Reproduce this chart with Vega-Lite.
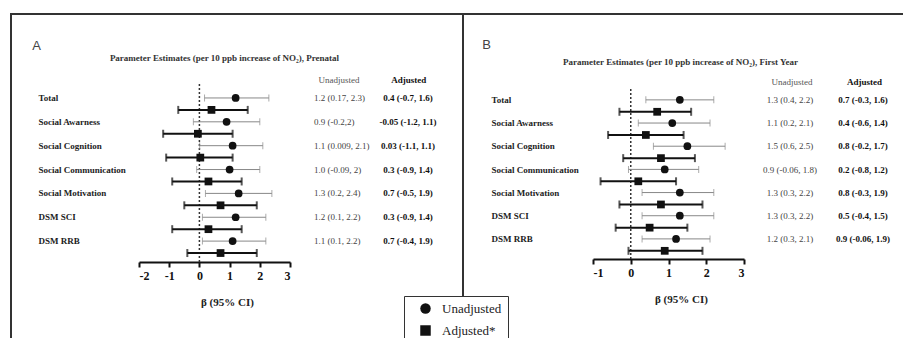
{
"$schema": "https://vega.github.io/schema/vega-lite/v6.json",
"background": "white",
"padding": {"left": 10, "top": 13, "right": 0, "bottom": 0},
"autosize": {"type": "pad"},
"spacing": 0,
"bounds": "flush",
"datasets": {
"prenatal": [
{"measure": "Total", "model": "Unadjusted", "est": 1.2, "lower": 0.17, "upper": 2.3, "ci": "1.2 (0.17, 2.3)"},
{"measure": "Total", "model": "Adjusted", "est": 0.4, "lower": -0.7, "upper": 1.6, "ci": "0.4 (-0.7, 1.6)"},
{"measure": "Social Awarness", "model": "Unadjusted", "est": 0.9, "lower": -0.2, "upper": 2, "ci": "0.9 (-0.2,2)"},
{"measure": "Social Awarness", "model": "Adjusted", "est": -0.05, "lower": -1.2, "upper": 1.1, "ci": "-0.05 (-1.2, 1.1)"},
{"measure": "Social Cognition", "model": "Unadjusted", "est": 1.1, "lower": 0.009, "upper": 2.1, "ci": "1.1 (0.009, 2.1)"},
{"measure": "Social Cognition", "model": "Adjusted", "est": 0.03, "lower": -1.1, "upper": 1.1, "ci": "0.03 (-1.1, 1.1)"},
{"measure": "Social Communication", "model": "Unadjusted", "est": 1.0, "lower": -0.09, "upper": 2, "ci": "1.0 (-0.09, 2)"},
{"measure": "Social Communication", "model": "Adjusted", "est": 0.3, "lower": -0.9, "upper": 1.4, "ci": "0.3 (-0.9, 1.4)"},
{"measure": "Social Motivation", "model": "Unadjusted", "est": 1.3, "lower": 0.2, "upper": 2.4, "ci": "1.3 (0.2, 2.4)"},
{"measure": "Social Motivation", "model": "Adjusted", "est": 0.7, "lower": -0.5, "upper": 1.9, "ci": "0.7 (-0.5, 1.9)"},
{"measure": "DSM SCI", "model": "Unadjusted", "est": 1.2, "lower": 0.1, "upper": 2.2, "ci": "1.2 (0.1, 2.2)"},
{"measure": "DSM SCI", "model": "Adjusted", "est": 0.3, "lower": -0.9, "upper": 1.4, "ci": "0.3 (-0.9, 1.4)"},
{"measure": "DSM RRB", "model": "Unadjusted", "est": 1.1, "lower": 0.1, "upper": 2.2, "ci": "1.1 (0.1, 2.2)"},
{"measure": "DSM RRB", "model": "Adjusted", "est": 0.7, "lower": -0.4, "upper": 1.9, "ci": "0.7 (-0.4, 1.9)"}
],
"firstyear": [
{"measure": "Total", "model": "Unadjusted", "est": 1.3, "lower": 0.4, "upper": 2.2, "ci": "1.3 (0.4, 2.2)"},
{"measure": "Total", "model": "Adjusted", "est": 0.7, "lower": -0.3, "upper": 1.6, "ci": "0.7 (-0.3, 1.6)"},
{"measure": "Social Awarness", "model": "Unadjusted", "est": 1.1, "lower": 0.2, "upper": 2.1, "ci": "1.1 (0.2, 2.1)"},
{"measure": "Social Awarness", "model": "Adjusted", "est": 0.4, "lower": -0.6, "upper": 1.4, "ci": "0.4 (-0.6, 1.4)"},
{"measure": "Social Cognition", "model": "Unadjusted", "est": 1.5, "lower": 0.6, "upper": 2.5, "ci": "1.5 (0.6, 2.5)"},
{"measure": "Social Cognition", "model": "Adjusted", "est": 0.8, "lower": -0.2, "upper": 1.7, "ci": "0.8 (-0.2, 1.7)"},
{"measure": "Social Communication", "model": "Unadjusted", "est": 0.9, "lower": -0.06, "upper": 1.8, "ci": "0.9 (-0.06, 1.8)"},
{"measure": "Social Communication", "model": "Adjusted", "est": 0.2, "lower": -0.8, "upper": 1.2, "ci": "0.2 (-0.8, 1.2)"},
{"measure": "Social Motivation", "model": "Unadjusted", "est": 1.3, "lower": 0.3, "upper": 2.2, "ci": "1.3 (0.3, 2.2)"},
{"measure": "Social Motivation", "model": "Adjusted", "est": 0.8, "lower": -0.3, "upper": 1.9, "ci": "0.8 (-0.3, 1.9)"},
{"measure": "DSM SCI", "model": "Unadjusted", "est": 1.3, "lower": 0.3, "upper": 2.2, "ci": "1.3 (0.3, 2.2)"},
{"measure": "DSM SCI", "model": "Adjusted", "est": 0.5, "lower": -0.4, "upper": 1.5, "ci": "0.5 (-0.4, 1.5)"},
{"measure": "DSM RRB", "model": "Unadjusted", "est": 1.2, "lower": 0.3, "upper": 2.1, "ci": "1.2 (0.3, 2.1)"},
{"measure": "DSM RRB", "model": "Adjusted", "est": 0.9, "lower": -0.06, "upper": 1.9, "ci": "0.9 (-0.06, 1.9)"}
]
},
"hconcat": [
{
"width": 452, "height": 330,
"data": {"name": "prenatal"},
"title": {"text": "Parameter Estimates (per 10 ppb increase of NO₂), Prenatal", "frame": "group", "anchor": "middle", "offset": -53, "baseline": "middle", "dx": -12.5, "font": "Liberation Serif", "fontSize": 9, "fontWeight": "bold", "color": "#333"},
"encoding": {
"y": {"field": "measure", "type": "nominal",
"scale": {"type": "band", "domain": ["Total", "Social Awarness", "Social Cognition", "Social Communication", "Social Motivation", "DSM SCI", "DSM RRB"], "range": [78, 245], "paddingInner": 0, "paddingOuter": 0},
"axis": {"offset": -27, "ticks": false, "domain": false, "labelAlign": "left", "labelPadding": 0, "labelFont": "Liberation Serif", "labelFontWeight": "bold", "labelFontSize": 9, "labelColor": "#222", "labelOffset": -6, "labelBaseline": "middle", "labelLimit": 0, "title": "A", "titleAngle": 0, "titleX": -2, "titleY": 31, "titleFont": "Liberation Sans", "titleFontSize": 13, "titleFontWeight": "normal", "titleColor": "#444", "titleAlign": "center", "titleBaseline": "middle"}}
},
"layer": [
{"data": {"values": [{}]},
"mark": {"type": "rule", "strokeDash": [2, 2], "strokeWidth": 1.5, "color": "#333", "yOffset": -20, "y2Offset": 15},
"encoding": {
"x": {"datum": 0, "type": "quantitative",
"scale": {"domain": [-2, 3], "range": [128, 279], "nice": false, "zero": false},
"axis": {"values": [-2, -1, 0, 1, 2, 3], "offset": -82, "labelExpr": "'' + datum.value", "domainWidth": 2, "domainColor": "#111", "tickWidth": 2, "tickColor": "#111", "tickSize": 5, "labelFont": "Liberation Serif", "labelFontWeight": "bold", "labelFontSize": 12, "labelColor": "#111", "labelPadding": 3, "grid": false, "title": "β (95% CI)", "titleFont": "Liberation Serif", "titleFontWeight": "bold", "titleFontSize": 11, "titleColor": "#222", "titleX": 216, "titleY": 40, "titleAlign": "center", "titleBaseline": "middle"}},
"y": {"datum": "Total"},
"y2": {"datum": "DSM RRB"}}},
{"transform": [{"filter": "datum.model == 'Unadjusted'"}],
"mark": {"type": "rule", "color": "#888", "strokeWidth": 1},
"encoding": {"x": {"field": "lower", "type": "quantitative"}, "x2": {"field": "upper"},
"yOffset": {"field": "model", "type": "nominal", "scale": {"domain": ["Unadjusted", "Adjusted"], "paddingInner": 0, "paddingOuter": 0}}}},
{"transform": [{"filter": "datum.model == 'Unadjusted'"}, {"fold": ["lower", "upper"], "as": ["end", "bound"]}],
"mark": {"type": "tick", "color": "#888", "thickness": 1, "size": 7},
"encoding": {"x": {"field": "bound", "type": "quantitative"},
"yOffset": {"field": "model", "type": "nominal"}}},
{"transform": [{"filter": "datum.model == 'Adjusted'"}],
"mark": {"type": "rule", "color": "#111", "strokeWidth": 2},
"encoding": {"x": {"field": "lower", "type": "quantitative"}, "x2": {"field": "upper"},
"yOffset": {"field": "model", "type": "nominal"}}},
{"transform": [{"filter": "datum.model == 'Adjusted'"}, {"fold": ["lower", "upper"], "as": ["end", "bound"]}],
"mark": {"type": "tick", "color": "#111", "thickness": 2, "size": 8},
"encoding": {"x": {"field": "bound", "type": "quantitative"},
"yOffset": {"field": "model", "type": "nominal"}}},
{"mark": {"type": "point", "filled": true, "color": "#111", "size": 60, "opacity": 1},
"encoding": {"x": {"field": "est", "type": "quantitative"},
"yOffset": {"field": "model", "type": "nominal"},
"shape": {"field": "model", "type": "nominal", "scale": {"domain": ["Unadjusted", "Adjusted"], "range": ["circle", "square"]},
"legend": {"orient": "none", "legendX": 393, "legendY": 282, "title": null, "padding": 6, "strokeColor": "#333", "fillColor": "white", "labelFont": "Liberation Serif", "labelFontSize": 13, "labelColor": "#222", "symbolSize": 110, "rowPadding": 8, "symbolOffset": 9, "labelOffset": 10, "symbolStrokeWidth": 0, "symbolFillColor": "#111", "labelExpr": "datum.label == 'Adjusted' ? 'Adjusted*' : datum.label", "encode": {"legend": {"update": {"strokeWidth": {"value": 2}}}, "symbols": {"update": {"size": {"value": 110}}}}}}}},
{"transform": [{"filter": "datum.model == 'Unadjusted'"}],
"mark": {"type": "text", "align": "left", "baseline": "middle", "dy": -6, "font": "Liberation Serif", "fontSize": 9, "color": "#444"},
"encoding": {"x": {"datum": 3.795, "type": "quantitative"}, "text": {"field": "ci"}}},
{"transform": [{"filter": "datum.model == 'Adjusted'"}],
"mark": {"type": "text", "align": "center", "baseline": "middle", "dy": -6, "font": "Liberation Serif", "fontSize": 9, "fontWeight": "bold", "color": "#111"},
"encoding": {"x": {"datum": 6.907, "type": "quantitative"}, "text": {"field": "ci"}}},
{"data": {"values": [{}]},
"mark": {"type": "text", "text": "Unadjusted", "align": "center", "baseline": "middle", "dy": -24, "font": "Liberation Serif", "fontSize": 9, "color": "#555"},
"encoding": {"x": {"datum": 4.62, "type": "quantitative"}, "y": {"datum": "Total"}}},
{"data": {"values": [{}]},
"mark": {"type": "text", "text": "Adjusted", "align": "center", "baseline": "middle", "dy": -24, "font": "Liberation Serif", "fontSize": 9, "fontWeight": "bold", "color": "#111"},
"encoding": {"x": {"datum": 6.93, "type": "quantitative"}, "y": {"datum": "Total"}}}
]
},
{
"width": 445, "height": 330,
"data": {"name": "firstyear"},
"title": {"text": "Parameter Estimates (per 10 ppb increase of NO₂), First Year", "frame": "group", "anchor": "middle", "offset": -57, "baseline": "middle", "dx": -5, "font": "Liberation Serif", "fontSize": 9, "fontWeight": "bold", "color": "#333"},
"encoding": {
"y": {"field": "measure", "type": "nominal",
"scale": {"type": "band", "domain": ["Total", "Social Awarness", "Social Cognition", "Social Communication", "Social Motivation", "DSM SCI", "DSM RRB"], "range": [79.9, 242.1], "paddingInner": 0, "paddingOuter": 0},
"axis": {"offset": -28, "ticks": false, "domain": false, "labelAlign": "left", "labelPadding": 0, "labelFont": "Liberation Serif", "labelFontWeight": "bold", "labelFontSize": 9, "labelColor": "#222", "labelOffset": -5.5, "labelBaseline": "middle", "labelLimit": 0, "title": "B", "titleAngle": 0, "titleX": -5, "titleY": 30, "titleFont": "Liberation Sans", "titleFontSize": 13, "titleFontWeight": "normal", "titleColor": "#444", "titleAlign": "center", "titleBaseline": "middle"}}
},
"layer": [
{"data": {"values": [{}]},
"mark": {"type": "rule", "strokeDash": [2, 2], "strokeWidth": 1.5, "color": "#333", "yOffset": -16.5, "y2Offset": 14.5},
"encoding": {
"x": {"datum": 0, "type": "quantitative",
"scale": {"domain": [-1, 3], "range": [130, 281], "nice": false, "zero": false},
"axis": {"values": [-1, 0, 1, 2, 3], "offset": -85, "labelExpr": "'' + datum.value", "domainWidth": 2, "domainColor": "#111", "tickWidth": 2, "tickColor": "#111", "tickSize": 5, "labelFont": "Liberation Serif", "labelFontWeight": "bold", "labelFontSize": 12, "labelColor": "#111", "labelPadding": 3, "grid": false, "title": "β (95% CI)", "titleFont": "Liberation Serif", "titleFontWeight": "bold", "titleFontSize": 11, "titleColor": "#222", "titleX": 218, "titleY": 40, "titleAlign": "center", "titleBaseline": "middle"}},
"y": {"datum": "Total"},
"y2": {"datum": "DSM RRB"}}},
{"transform": [{"filter": "datum.model == 'Unadjusted'"}],
"mark": {"type": "rule", "color": "#888", "strokeWidth": 1},
"encoding": {"x": {"field": "lower", "type": "quantitative"}, "x2": {"field": "upper"},
"yOffset": {"field": "model", "type": "nominal", "scale": {"domain": ["Unadjusted", "Adjusted"], "paddingInner": 0, "paddingOuter": 0}}}},
{"transform": [{"filter": "datum.model == 'Unadjusted'"}, {"fold": ["lower", "upper"], "as": ["end", "bound"]}],
"mark": {"type": "tick", "color": "#888", "thickness": 1, "size": 7},
"encoding": {"x": {"field": "bound", "type": "quantitative"},
"yOffset": {"field": "model", "type": "nominal"}}},
{"transform": [{"filter": "datum.model == 'Adjusted'"}],
"mark": {"type": "rule", "color": "#111", "strokeWidth": 2},
"encoding": {"x": {"field": "lower", "type": "quantitative"}, "x2": {"field": "upper"},
"yOffset": {"field": "model", "type": "nominal"}}},
{"transform": [{"filter": "datum.model == 'Adjusted'"}, {"fold": ["lower", "upper"], "as": ["end", "bound"]}],
"mark": {"type": "tick", "color": "#111", "thickness": 2, "size": 8},
"encoding": {"x": {"field": "bound", "type": "quantitative"},
"yOffset": {"field": "model", "type": "nominal"}}},
{"mark": {"type": "point", "filled": true, "color": "#111", "size": 60, "opacity": 1},
"encoding": {"x": {"field": "est", "type": "quantitative"},
"yOffset": {"field": "model", "type": "nominal"},
"shape": {"field": "model", "type": "nominal", "scale": {"domain": ["Unadjusted", "Adjusted"], "range": ["circle", "square"]},
"legend": {"orient": "none", "legendX": 393, "legendY": 282, "title": null, "padding": 6, "strokeColor": "#333", "fillColor": "white", "labelFont": "Liberation Serif", "labelFontSize": 13, "labelColor": "#222", "symbolSize": 110, "rowPadding": 8, "symbolOffset": 9, "labelOffset": 10, "symbolStrokeWidth": 0, "symbolFillColor": "#111", "labelExpr": "datum.label == 'Adjusted' ? 'Adjusted*' : datum.label", "encode": {"legend": {"update": {"strokeWidth": {"value": 2}}}, "symbols": {"update": {"size": {"value": 110}}}}}}}},
{"transform": [{"filter": "datum.model == 'Unadjusted'"}],
"mark": {"type": "text", "align": "center", "baseline": "middle", "dy": -5.5, "font": "Liberation Serif", "fontSize": 9, "color": "#444"},
"encoding": {"x": {"datum": 4.219, "type": "quantitative"}, "text": {"field": "ci"}}},
{"transform": [{"filter": "datum.model == 'Adjusted'"}],
"mark": {"type": "text", "align": "center", "baseline": "middle", "dy": -5.5, "font": "Liberation Serif", "fontSize": 9, "fontWeight": "bold", "color": "#111"},
"encoding": {"x": {"datum": 6.152, "type": "quantitative"}, "text": {"field": "ci"}}},
{"data": {"values": [{}]},
"mark": {"type": "text", "text": "Unadjusted", "align": "center", "baseline": "middle", "dy": -23.5, "font": "Liberation Serif", "fontSize": 9, "color": "#555"},
"encoding": {"x": {"datum": 4.27, "type": "quantitative"}, "y": {"datum": "Total"}}},
{"data": {"values": [{}]},
"mark": {"type": "text", "text": "Adjusted", "align": "center", "baseline": "middle", "dy": -23.5, "font": "Liberation Serif", "fontSize": 9, "fontWeight": "bold", "color": "#111"},
"encoding": {"x": {"datum": 6.19, "type": "quantitative"}, "y": {"datum": "Total"}}}
]
}
],
"config": {
"view": {"stroke": "#333", "strokeWidth": 2},
"axis": {"grid": false},
"font": "Liberation Serif"
}
}
